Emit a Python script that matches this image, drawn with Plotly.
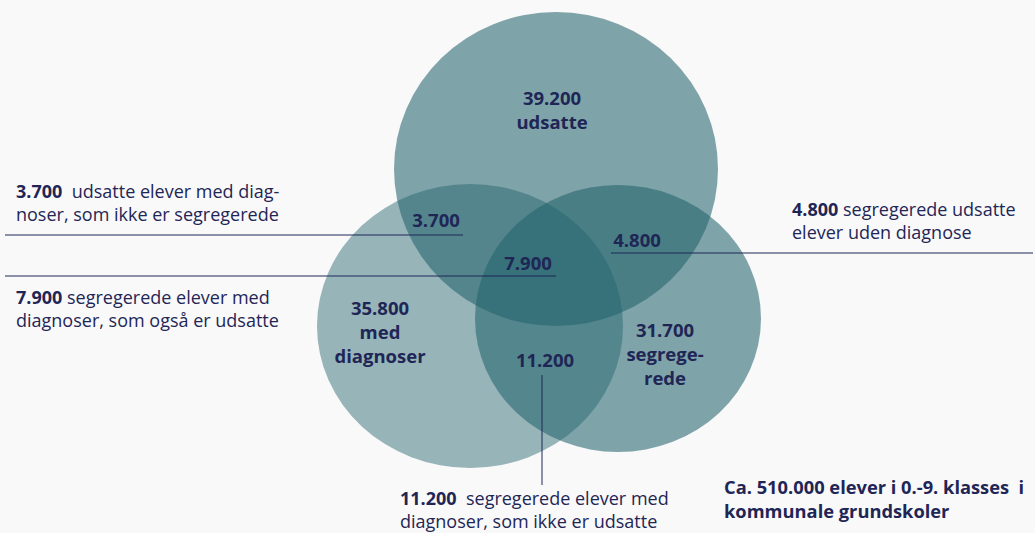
import plotly.graph_objects as go

# Values per Venn region
region_keys = ['udsatte', 'diagnoser', 'segregerede', 'u_d', 'alle', 'u_s', 'd_s']
region_values = [39200, 35800, 31700, 3700, 7900, 4800, 11200]
region_names = ['udsatte', 'med<br>diagnoser', 'segrege-<br>rede', '', '', '', '']

callout_values = [3700, 7900, 4800, 11200]
callout_texts = [
    ' udsatte elever med diag-<br>noser, som ikke er segregerede',
    'segregerede elever med<br>diagnoser, som også er udsatte',
    'segregerede udsatte<br>elever uden diagnose',
    ' segregerede elever med<br>diagnoser, som ikke er udsatte',
]
total_text = 'Ca. 510.000 elever i 0.-9. klasses  i<br>kommunale grundskoler'


def fmt(v):
    return f"{v:,}".replace(",", ".")


NAVY = '#1f2656'
BASE = 'rgb(34,98,108)'
BG = '#f9f9f9'
FONT = 'Open Sans'

# label block centres in the pixel-like coordinate system
label_x = [552, 380, 665, 436, 528, 637, 545]
label_y = [112, 334, 356, 222, 265, 242, 362]

labels = [f"<b>{fmt(v)}</b>" + (f"<br><b>{n.replace('<br>', '</b><br><b>')}</b>" if n else '')
          for v, n in zip(region_values, region_names)]

fig = go.Figure()
fig.add_trace(go.Scatter(
    x=label_x, y=label_y, mode='text', text=labels,
    textfont=dict(family=FONT, size=18.5, color=NAVY),
    hoverinfo='skip', showlegend=False,
))

# circles (slightly wider than tall, as in the original)
fig.add_shape(type='circle', x0=394, x1=718, y0=12, y1=326,
              fillcolor=BASE, opacity=0.57, line_width=0, layer='below')
fig.add_shape(type='circle', x0=317, x1=623, y0=184, y1=468,
              fillcolor=BASE, opacity=0.46, line_width=0, layer='below')
fig.add_shape(type='circle', x0=475, x1=761, y0=185, y1=452,
              fillcolor=BASE, opacity=0.57, line_width=0, layer='below')

# leader lines
line = dict(color=NAVY, width=1)
fig.add_shape(type='line', x0=5, x1=463, y0=235, y1=235, line=line)
fig.add_shape(type='line', x0=5, x1=556, y0=276, y1=276, line=line)
fig.add_shape(type='line', x0=611, x1=1033, y0=253, y1=253, line=line)
fig.add_shape(type='line', x0=542, x1=542, y0=375, y1=485, line=line)

# callout texts
callout_pos = [(14, 202), (14, 308), (790, 220), (398, 509)]
for v, t, (x, y) in zip(callout_values, callout_texts, callout_pos):
    fig.add_annotation(x=x, y=y, xanchor='left', yanchor='middle', align='left',
                       showarrow=False, text=f"<b>{fmt(v)}</b> {t}",
                       font=dict(family=FONT, size=18, color=NAVY))

fig.add_annotation(x=722, y=498, xanchor='left', yanchor='middle', align='left',
                   showarrow=False, text=f"<b>{total_text.replace('<br>', '</b><br><b>')}</b>",
                   font=dict(family=FONT, size=18.3, color=NAVY))

fig.update_xaxes(range=[0, 1035], visible=False, fixedrange=True)
fig.update_yaxes(range=[533, 0], visible=False, fixedrange=True)
fig.update_layout(
    width=1035, height=533,
    margin=dict(l=0, r=0, t=0, b=0),
    paper_bgcolor=BG, plot_bgcolor=BG,
)

fig.write_html("out.html", config={'displayModeBar': False},
               post_script="document.body.style.margin='0';")
